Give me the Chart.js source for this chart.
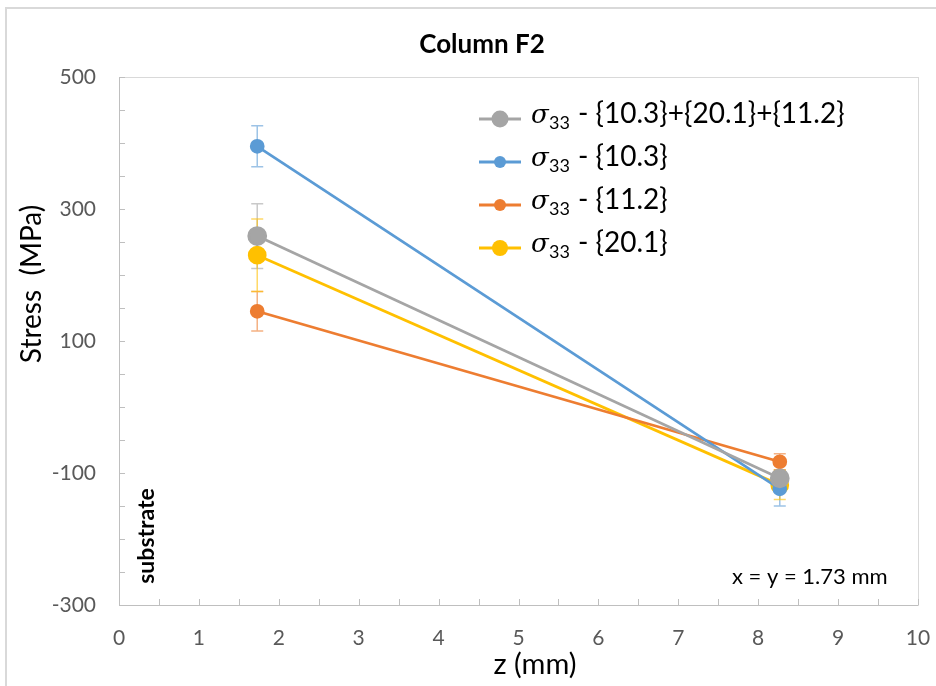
<!DOCTYPE html>
<html>
<head>
<meta charset="utf-8">
<script src="https://cdn.jsdelivr.net/npm/chart.js@4"></script>
<style>
  html, body { margin: 0; padding: 0; background: #fff; }
  canvas { display: block; }
</style>
</head>
<body>
<canvas id="chart" width="936" height="686"></canvas>
<script>
  /* ── data ── */
  const zPositions = [1.73, 8.27];
  const seriesNames = ["{10.3}+{20.1}+{11.2}", "{10.3}", "{11.2}", "{20.1}"];
  const stressCombined = [259, -108];
  const stress103 = [395, -124];
  const stress112 = [145, -83];
  const stress201 = [230, -118];
  const errCombined = [49, 12];
  const err103 = [31, 26];
  const err112 = [30, 12];
  const err201 = [55, 22];
  const xTickLabels = [0, 1, 2, 3, 4, 5, 6, 7, 8, 9, 10];
  const yTickLabels = [500, 300, 100, -100, -300];

  /* ── colours ── */
  const GRAY = "#A5A5A5", BLUE = "#5B9BD5", ORANGE = "#ED7D31", YELLOW = "#FFC000";
  const FRAME = "#D9D9D9";
  const FONT = "Lato, 'Open Sans', sans-serif";

  function pts(ys) { return zPositions.map(function (x, i) { return { x: x, y: ys[i] }; }); }

  function series(i, ys, errs, color, radius) {
    return {
      label: seriesNames[i],
      data: pts(ys),
      errors: errs,
      borderColor: color,
      backgroundColor: color,
      pointBackgroundColor: color,
      pointBorderColor: color,
      pointRadius: radius,
      pointHoverRadius: radius,
      borderWidth: 2.75,
      showLine: true,
      tension: 0,
    };
  }

  const datasets = [
    series(0, stressCombined, errCombined, GRAY, 8.5),
    series(1, stress103, err103, BLUE, 6),
    series(2, stress112, err112, ORANGE, 6),
    series(3, stress201, err201, YELLOW, 8),
  ];

  /* ── error bars, drawn under the lines ── */
  const errorBars = {
    id: "errorBars",
    beforeDatasetsDraw: function (chart) {
      var ctx = chart.ctx, xs = chart.scales.x, ys = chart.scales.y;
      ctx.save();
      ctx.globalAlpha = 0.6;
      ctx.lineWidth = 1.5;
      chart.data.datasets.forEach(function (ds) {
        ctx.strokeStyle = ds.borderColor;
        ds.data.forEach(function (p, i) {
          var e = ds.errors[i];
          var px = xs.getPixelForValue(p.x);
          var top = ys.getPixelForValue(p.y + e), bot = ys.getPixelForValue(p.y - e);
          ctx.beginPath();
          ctx.moveTo(px, top); ctx.lineTo(px, bot);
          ctx.moveTo(px - 6, top); ctx.lineTo(px + 6, top);
          ctx.moveTo(px - 6, bot); ctx.lineTo(px + 6, bot);
          ctx.stroke();
        });
      });
      ctx.restore();
    },
  };

  /* ── frame, inside ticks, titles, legend, annotations ── */
  const decorations = {
    id: "decorations",
    beforeDatasetsDraw: function (chart) {
      var ctx = chart.ctx, a = chart.chartArea, xs = chart.scales.x, ys = chart.scales.y;
      ctx.save();
      // outer chart border (left and top only)
      ctx.strokeStyle = FRAME;
      ctx.lineWidth = 2;
      ctx.beginPath();
      ctx.moveTo(6, 686); ctx.lineTo(6, 8); ctx.lineTo(936, 8);
      ctx.stroke();
      // plot frame
      ctx.lineWidth = 1;
      ctx.strokeRect(a.left + 0.5, a.top + 0.5, a.right - a.left, a.bottom - a.top);
      ctx.strokeStyle = "#BFBFBF";
      ctx.beginPath();
      ctx.moveTo(a.left + 0.5, a.top); ctx.lineTo(a.left + 0.5, a.bottom + 0.5);
      ctx.lineTo(a.right, a.bottom + 0.5);
      for (var v = -300; v <= 500; v += 50) {
        var py = Math.round(ys.getPixelForValue(v)) + 0.5;
        ctx.moveTo(a.left, py); ctx.lineTo(a.left + 6, py);
      }
      for (var z = 0; z <= 10; z += 0.5) {
        var px = Math.round(xs.getPixelForValue(z)) + 0.5;
        ctx.moveTo(px, a.bottom); ctx.lineTo(px, a.bottom - 6);
      }
      ctx.stroke();
      ctx.restore();
    },
    afterDraw: function (chart) {
      var ctx = chart.ctx;
      ctx.save();
      ctx.fillStyle = "#000";
      ctx.textAlign = "center";
      ctx.textBaseline = "middle";
      ctx.font = "bold 26px " + FONT;
      ctx.fillText("Column F2", 482, 45);

      // axis titles
      ctx.font = "29px " + FONT;
      ctx.fillText("z (mm)", 535, 665);
      ctx.save();
      ctx.translate(32, 284);
      ctx.rotate(-Math.PI / 2);
      ctx.font = "28px " + FONT;
      ctx.fillText("Stress  (MPa)", 0, 0);
      ctx.restore();

      ctx.font = "22px " + FONT;
      ctx.textAlign = "left";
      ctx.fillText("x = y = 1.73 mm", 732, 577);

      ctx.save();
      ctx.translate(147, 536);
      ctx.rotate(-Math.PI / 2);
      ctx.textAlign = "center";
      ctx.font = "bold 23px " + FONT;
      ctx.fillText("substrate", 0, 0);
      ctx.restore();

      // legend
      var rowsY = [119, 162, 205, 248];
      chart.data.datasets.forEach(function (ds, i) {
        var y = rowsY[i];
        ctx.strokeStyle = ds.borderColor;
        ctx.fillStyle = ds.borderColor;
        ctx.lineWidth = 3;
        ctx.beginPath(); ctx.moveTo(479, y); ctx.lineTo(521, y); ctx.stroke();
        ctx.beginPath(); ctx.arc(500, y, ds.pointRadius, 0, Math.PI * 2); ctx.fill();
        ctx.fillStyle = "#000";
        ctx.textAlign = "left";
        ctx.textBaseline = "alphabetic";
        ctx.font = "italic 26px 'DejaVu Serif', serif";
        ctx.fillText("σ", 531, y + 4);
        ctx.font = "18px " + FONT;
        ctx.fillText("33", 549, y + 10);
        ctx.font = "28px " + FONT;
        ctx.fillText("- " + ds.label, 578, y + 4);
      });
      ctx.restore();
    },
  };

  new Chart(document.getElementById("chart").getContext("2d"), {
    type: "scatter",
    data: { datasets: datasets },
    plugins: [errorBars, decorations],
    options: {
      responsive: false,
      animation: false,
      layout: { padding: { top: 77, right: 18, left: 0, bottom: 0 } },
      plugins: {
        legend: { display: false },
        title: { display: false },
        tooltip: { enabled: false },
      },
      scales: {
        x: {
          type: "linear",
          min: 0, max: 10,
          afterBuildTicks: function (s) { s.ticks = xTickLabels.map(function (v) { return { value: v }; }); },
          afterFit: function (s) { s.height = 81; s.paddingLeft = 0; s.paddingRight = 0; },
          grid: { display: false, drawTicks: false },
          border: { display: false },
          ticks: { color: "#595959", padding: 21, maxRotation: 0, font: { family: FONT, size: 21 } },
        },
        y: {
          type: "linear",
          min: -300, max: 500,
          afterBuildTicks: function (s) { s.ticks = yTickLabels.map(function (v) { return { value: v }; }); },
          afterFit: function (s) { s.width = 119; s.paddingTop = 0; s.paddingBottom = 0; },
          grid: { display: false, drawTicks: false },
          border: { display: false },
          ticks: { color: "#595959", padding: 23, font: { family: FONT, size: 21 } },
        },
      },
    },
  });
</script>
</body>
</html>
